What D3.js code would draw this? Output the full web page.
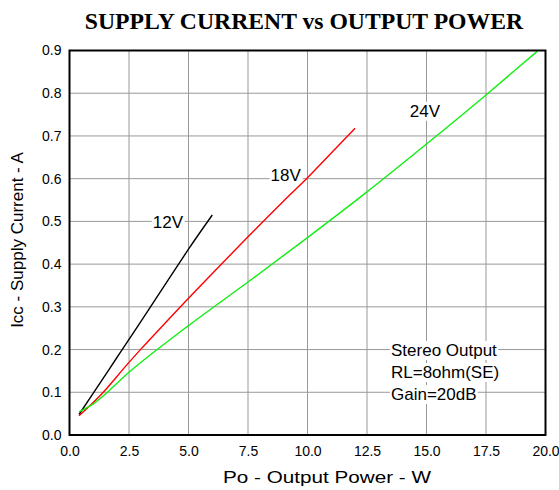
<!DOCTYPE html>
<html>
<head>
<meta charset="utf-8">
<script src="https://cdn.jsdelivr.net/npm/d3@7/dist/d3.min.js"></script>
<style>
  html, body { margin: 0; padding: 0; background: #fff; }
  svg { display: block; }
</style>
</head>
<body>
<svg id="chart" width="559" height="490"></svg>
<script>
// Tick values for both axes
const xTicks = [0, 2.5, 5, 7.5, 10, 12.5, 15, 17.5, 20];
const yTicks = [0, 0.1, 0.2, 0.3, 0.4, 0.5, 0.6, 0.7, 0.8, 0.9];

// Output power (W) and supply current (A) for each supply voltage
const po12 = [0.4, 1.0, 2.0, 2.5, 3.3, 4.5, 5.0, 6.0];
const icc12 = [0.048, 0.098, 0.182, 0.224, 0.291, 0.393, 0.435, 0.515];

const po18 = [0.4, 1.3, 2.5, 3.0, 4.0, 5.0, 6.0, 7.5, 9.0, 10.0, 11.0, 12.0];
const icc18 = [0.045, 0.093, 0.170, 0.201, 0.261, 0.320, 0.378, 0.464, 0.548, 0.602, 0.660, 0.718];

const po24 = [0.4, 1.0, 2.5, 5.0, 7.5, 10.0, 12.5, 15.0, 17.5, 19.65];
const icc24 = [0.054, 0.073, 0.147, 0.256, 0.358, 0.462, 0.569, 0.681, 0.796, 0.898];

const seriesNames = ["12V", "18V", "24V"];
const seriesColors = ["#000000", "#ff0000", "#11ee11"];
// where each series label sits, in data units (left edge, baseline)
const labelPos = [[3.5, 0.485], [8.45, 0.595], [14.3, 0.745]];

const notes = ["Stereo Output", "RL=8ohm(SE)", "Gain=20dB"];

const svg = d3.select("#chart");
const x = d3.scaleLinear().domain([0, 20]).range([69.5, 545.5]);
const y = d3.scaleLinear().domain([0, 0.9]).range([435, 50.5]);

const font = "'Liberation Sans', Arial, sans-serif";

// grid
const grid = svg.append("g").attr("stroke", "#999").attr("stroke-width", 1);
grid.selectAll("line.v").data(xTicks.slice(1, -1)).join("line")
  .attr("x1", d => x(d)).attr("x2", d => x(d))
  .attr("y1", y(0)).attr("y2", y(0.9));
grid.selectAll("line.h").data(yTicks.slice(1, -1)).join("line")
  .attr("x1", x(0)).attr("x2", x(20))
  .attr("y1", d => y(d)).attr("y2", d => y(d));

// axes (labels only; frame drawn separately)
const xAxis = d3.axisBottom(x).tickValues(xTicks).tickFormat(d3.format(".1f")).tickSize(0).tickPadding(11);
const yAxis = d3.axisLeft(y).tickValues(yTicks).tickFormat(d3.format(".1f")).tickSize(0).tickPadding(8);
const gx = svg.append("g").attr("transform", `translate(0,${y(0)})`).call(xAxis);
const gy = svg.append("g").attr("transform", `translate(${x(0)},0)`).call(yAxis);
[gx, gy].forEach(g => {
  g.select(".domain").remove();
  g.selectAll("text").attr("font-family", font).attr("font-size", 14).attr("fill", "#000");
});

// text with a white backing box that masks the grid behind it
function boxedText(parent, tx, ty, str) {
  const g = parent.append("g");
  const r = g.append("rect").attr("fill", "#fff");
  const t = g.append("text").attr("x", tx).attr("y", ty)
    .attr("font-family", font).attr("font-size", 17).attr("fill", "#000").text(str);
  const b = t.node().getBBox();
  r.attr("x", b.x - 1).attr("y", b.y).attr("width", b.width + 2).attr("height", b.height);
  return g;
}

const labels = svg.append("g");
seriesNames.forEach((n, i) => boxedText(labels, x(labelPos[i][0]), y(labelPos[i][1]), n));

const noteG = svg.append("g");
notes.forEach((n, i) => boxedText(noteG, 391, 356 + i * 22, n));

// series
const data = [
  po12.map((p, i) => [p, icc12[i]]),
  po18.map((p, i) => [p, icc18[i]]),
  po24.map((p, i) => [p, icc24[i]])
];
const line = d3.line().x(d => x(d[0])).y(d => y(d[1])).curve(d3.curveMonotoneX);
svg.append("g").selectAll("path").data(data).join("path")
  .attr("d", line)
  .attr("fill", "none")
  .attr("stroke", (d, i) => seriesColors[i])
  .attr("stroke-width", 1.4);

// frame
svg.append("rect")
  .attr("x", x(0)).attr("y", y(0.9))
  .attr("width", x(20) - x(0)).attr("height", y(0) - y(0.9))
  .attr("fill", "none").attr("stroke", "#000").attr("stroke-width", 2);

// titles
svg.append("text").attr("x", 304).attr("y", 28.5).attr("text-anchor", "middle")
  .attr("font-family", "'Liberation Serif', 'Times New Roman', serif")
  .attr("font-weight", "bold").attr("font-size", 23.7).text("SUPPLY CURRENT vs OUTPUT POWER");

svg.append("text").attr("x", 327).attr("y", 483).attr("text-anchor", "middle")
  .attr("font-family", font).attr("font-size", 17)
  .attr("textLength", 208).attr("lengthAdjust", "spacingAndGlyphs")
  .text("Po - Output Power - W");

svg.append("text").attr("transform", "translate(23,240) rotate(-90)").attr("text-anchor", "middle")
  .attr("font-family", font).attr("font-size", 17).text("Icc - Supply Current - A");
</script>
</body>
</html>
